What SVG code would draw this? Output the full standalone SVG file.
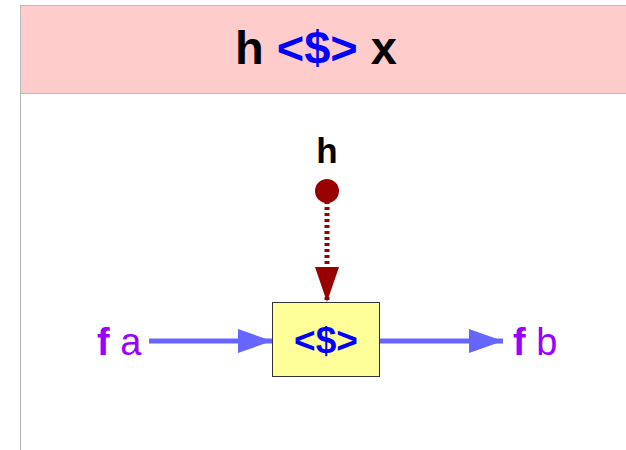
<svg xmlns="http://www.w3.org/2000/svg" width="626" height="450" viewBox="0 0 626 450">
<style>
text{font-family:"Liberation Sans",Arial,sans-serif}
.b{font-weight:bold}
.blue{fill:#0000ff}
.pur{fill:#9900ff}
.conn{stroke:#6666ff;stroke-width:5;fill:none}
</style>
<defs>
<marker id="ab" markerUnits="userSpaceOnUse" markerWidth="34" markerHeight="24" refX="34" refY="12" orient="auto"><path d="M0,0 L34,12 L0,24 Z" fill="#6666ff"/></marker>
<marker id="ar" markerUnits="userSpaceOnUse" markerWidth="35" markerHeight="24" refX="35" refY="12" orient="auto"><path d="M0,0 L35,12 L0,24 Z" fill="#990000"/></marker>
</defs>
<rect x="0" y="0" width="626" height="450" fill="#ffffff"/>
<g id="header">
<rect x="20" y="6" width="606" height="87" fill="#ffcccc"/>
<path d="M20.5,5 V450 M20,5.5 H626 M20,93.5 H626" stroke="#bbbbbb" stroke-width="1" fill="none"/>
<text x="316" y="64" font-size="47" text-anchor="middle" class="b">h <tspan class="blue">&lt;$&gt;</tspan> x</text>
</g>
<g id="connectors">
<line x1="149" y1="341" x2="272" y2="341" class="conn" marker-end="url(#ab)"/>
<line x1="380" y1="341" x2="503" y2="341" class="conn" marker-end="url(#ab)"/>
<line x1="327" y1="201" x2="327" y2="302" stroke="#990000" stroke-width="5" stroke-dasharray="3,3" marker-end="url(#ar)"/>
</g>
<g id="node-h">
<text x="327" y="163" font-size="35" text-anchor="middle" class="b">h</text>
<circle cx="327" cy="191" r="12" fill="#990000"/>
</g>
<g id="node-op">
<rect x="272.5" y="302.5" width="107" height="74" fill="#ffff99" stroke="#333333" stroke-width="1"/>
<text x="326" y="353" font-size="37" text-anchor="middle" class="b blue">&lt;$&gt;</text>
</g>
<g id="node-fa">
<text x="97" y="355" font-size="38" class="pur"><tspan class="b">f</tspan> a</text>
</g>
<g id="node-fb">
<text x="513" y="355" font-size="38" class="pur"><tspan class="b">f</tspan> b</text>
</g>
</svg>
